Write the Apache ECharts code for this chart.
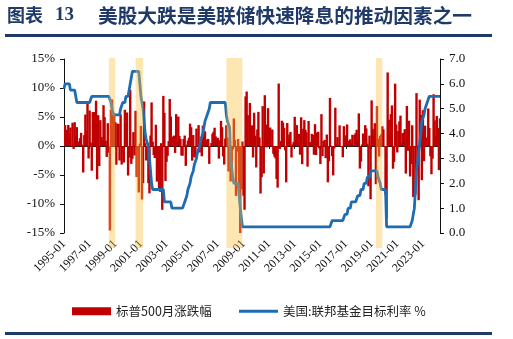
<!DOCTYPE html>
<html>
<head>
<meta charset="utf-8">
<script src="https://cdn.jsdelivr.net/npm/echarts@6/dist/echarts.min.js"></script>
<style>
  html, body { margin: 0; padding: 0; background: #fff; }
  #chart { width: 513px; height: 339px; }
</style>
</head>
<body>
<div id="chart"></div>
<script>
// Monthly series, 1995-01 .. 2024-05
const startYear = 1995;
const monthCount = 353;

// S&P 500 monthly change, %
const spxReturns = [
  2.43, 3.61, 2.73, 2.80, 3.63, 2.13, 3.18, -0.03, 4.01, -0.50, 4.10, 1.74,
  3.26, 0.69, 0.79, 1.34, 2.28, 0.23, -4.57, 1.88, 5.42, 2.61, 7.34, -2.15,
  6.13, 0.59, -4.26, 5.84, 5.86, 4.35, 7.81, -5.75, 5.32, -3.45, 4.46, 1.57,
  1.01, 7.04, 4.99, 0.91, -1.88, 3.94, -1.16, -14.58, 6.24, 8.03, 5.91, 5.64,
  4.10, -3.23, 3.88, 3.79, -2.50, 5.44, -3.20, -0.63, -2.86, 6.25, 1.91, 5.78,
  -5.09, -2.01, 9.67, -3.08, -2.19, 2.39, -1.63, 6.07, -5.35, -0.49, -8.01, 0.41,
  3.46, -9.23, -6.42, 7.68, 0.51, -2.50, -1.07, -6.41, -8.17, 1.81, 7.52, 0.76,
  -1.56, -2.08, 3.67, -6.14, -0.91, -7.25, -7.90, 0.49, -11.00, 8.64, 5.71, -6.03,
  -2.74, -1.70, 0.84, 8.10, 5.09, 1.13, 1.62, 1.79, -1.19, 5.50, 0.71, 5.08,
  1.73, 1.22, -1.64, -1.68, 1.21, 1.80, -3.43, 0.23, 0.94, 1.40, 3.86, 3.25,
  -2.53, 1.89, -1.91, -2.01, 3.00, -0.01, 3.60, -1.12, 0.69, -1.77, 3.52, -0.10,
  2.55, 0.05, 1.11, 1.22, -3.09, 0.01, 0.51, 2.13, 2.46, 3.15, 1.65, 1.26,
  1.41, -2.18, 1.00, 4.33, 3.25, -1.78, -3.20, 1.29, 3.58, 1.48, -4.40, -0.86,
  -6.12, -3.48, -0.60, 4.75, 1.07, -8.60, -0.99, 1.22, -9.08, -16.94, -7.48, 0.78,
  -8.57, -10.99, 8.54, 9.39, 5.31, 0.02, 7.41, 3.36, 3.57, -1.98, 5.74, 1.78,
  -3.70, 2.85, 5.88, 1.48, -8.20, -5.39, 6.88, -4.74, 8.76, 3.69, -0.23, 6.53,
  2.26, 3.20, -0.10, 2.85, -1.35, -1.83, -2.15, -5.68, -7.18, 10.77, -0.51, 0.85,
  4.36, 4.06, 3.13, -0.75, -6.27, 3.96, 1.26, 1.98, 2.42, -1.98, 0.28, 0.71,
  5.04, 1.11, 3.60, 1.81, 2.08, -1.50, 4.95, -3.13, 2.97, 4.46, 2.80, 2.36,
  -3.56, 4.31, 0.69, 0.62, 2.10, 1.91, -1.51, 3.77, -1.55, 2.32, 2.45, -0.42,
  -3.10, 5.49, -1.74, 0.85, 1.05, -2.10, 1.97, -6.26, -2.64, 8.30, 0.05, -1.75,
  -5.07, -0.41, 6.60, 0.27, 1.53, 0.09, 3.56, -0.12, -0.12, -1.94, 3.42, 1.82,
  1.79, 3.72, -0.04, 0.91, 1.16, 0.48, 1.93, 0.05, 1.93, 2.22, 2.81, 0.98,
  5.62, -3.89, -2.69, 0.27, 2.16, 0.48, 3.60, 3.03, 0.43, -6.94, 1.79, -9.18,
  7.87, 2.97, 1.79, 3.93, -6.58, 6.89, 1.31, -1.81, 1.72, 2.04, 3.40, 2.86,
  -0.16, -8.41, -12.51, 12.68, 4.53, 1.84, 5.51, 7.01, -3.92, -2.77, 10.75, 3.71,
  -1.11, 2.61, 4.24, 5.24, 0.55, 2.22, 2.27, 2.90, -4.76, 6.91, -0.83, 4.36,
  -5.26, -3.14, 3.58, -8.80, 0.01, -8.39, 9.11, -4.24, -9.34, 7.99, 5.38, -5.90,
  6.18, -2.61, 3.51, 1.46, 0.25, 6.47, 3.11, -1.77, -4.87, -2.20, 8.92, 4.42,
  1.59, 5.17, 3.10, -4.16, 4.80
];

// US federal funds target rate (upper bound), %
const fedTarget = [
  5.8, 6, 6, 6, 6, 6, 5.75, 5.75, 5.75, 5.75, 5.75, 5.5,
  5.25, 5.25, 5.25, 5.25, 5.25, 5.25, 5.25, 5.25, 5.25, 5.25, 5.25, 5.25,
  5.25, 5.25, 5.5, 5.5, 5.5, 5.5, 5.5, 5.5, 5.5, 5.5, 5.5, 5.5,
  5.5, 5.5, 5.5, 5.5, 5.5, 5.5, 5.5, 5.5, 5.25, 5, 4.75, 4.75,
  4.75, 4.75, 4.75, 4.75, 4.75, 5, 5, 5.25, 5.25, 5.25, 5.5, 5.5,
  5.5, 5.75, 6, 6, 6.5, 6.5, 6.5, 6.5, 6.5, 6.5, 6.5, 6.5,
  5.5, 5.5, 5, 4.5, 4, 3.75, 3.75, 3.5, 3, 2.5, 2, 1.75,
  1.75, 1.75, 1.75, 1.75, 1.75, 1.75, 1.75, 1.75, 1.75, 1.75, 1.25, 1.25,
  1.25, 1.25, 1.25, 1.25, 1.25, 1, 1, 1, 1, 1, 1, 1,
  1, 1, 1, 1, 1, 1.25, 1.25, 1.5, 1.75, 1.75, 2, 2.25,
  2.25, 2.5, 2.75, 2.75, 3, 3.25, 3.25, 3.5, 3.75, 3.75, 4, 4.25,
  4.5, 4.5, 4.75, 4.75, 5, 5.25, 5.25, 5.25, 5.25, 5.25, 5.25, 5.25,
  5.25, 5.25, 5.25, 5.25, 5.25, 5.25, 5.25, 5.25, 4.75, 4.5, 4.5, 4.25,
  3, 3, 2.25, 2, 2, 2, 2, 2, 2, 1, 1, 0.25,
  0.25, 0.25, 0.25, 0.25, 0.25, 0.25, 0.25, 0.25, 0.25, 0.25, 0.25, 0.25,
  0.25, 0.25, 0.25, 0.25, 0.25, 0.25, 0.25, 0.25, 0.25, 0.25, 0.25, 0.25,
  0.25, 0.25, 0.25, 0.25, 0.25, 0.25, 0.25, 0.25, 0.25, 0.25, 0.25, 0.25,
  0.25, 0.25, 0.25, 0.25, 0.25, 0.25, 0.25, 0.25, 0.25, 0.25, 0.25, 0.25,
  0.25, 0.25, 0.25, 0.25, 0.25, 0.25, 0.25, 0.25, 0.25, 0.25, 0.25, 0.25,
  0.25, 0.25, 0.25, 0.25, 0.25, 0.25, 0.25, 0.25, 0.25, 0.25, 0.25, 0.25,
  0.25, 0.25, 0.25, 0.25, 0.25, 0.25, 0.25, 0.25, 0.25, 0.25, 0.25, 0.5,
  0.5, 0.5, 0.5, 0.5, 0.5, 0.5, 0.5, 0.5, 0.5, 0.5, 0.5, 0.75,
  0.75, 0.75, 1, 1, 1, 1.25, 1.25, 1.25, 1.25, 1.25, 1.25, 1.5,
  1.5, 1.5, 1.75, 1.75, 1.75, 2, 2, 2, 2.25, 2.25, 2.25, 2.5,
  2.5, 2.5, 2.5, 2.5, 2.5, 2.5, 2.25, 2.25, 2, 1.75, 1.75, 1.75,
  1.75, 1.75, 0.25, 0.25, 0.25, 0.25, 0.25, 0.25, 0.25, 0.25, 0.25, 0.25,
  0.25, 0.25, 0.25, 0.25, 0.25, 0.25, 0.25, 0.25, 0.25, 0.25, 0.25, 0.25,
  0.25, 0.25, 0.5, 0.5, 1, 1.75, 2.5, 2.5, 3.25, 3.25, 4, 4.5,
  4.5, 4.75, 5, 5, 5.25, 5.25, 5.5, 5.5, 5.5, 5.5, 5.5, 5.5,
  5.5, 5.5, 5.5, 5.5, 5.5
];

// Shaded periods of fast rate cuts after sharp equity drops
const bandStarts = ['1998-07', '2000-08', '2007-09', '2019-05'];
const bandEnds   = ['1999-01', '2001-03', '2008-12', '2019-11'];

const seriesNames = ['标普500月涨跌幅', '美国:联邦基金目标利率 %'];
const titleLabel = '图表';
const titleNumber = '13';
const titleText = '美股大跌是美联储快速降息的推动因素之一';

// Month labels "YYYY-MM"
const months = [];
for (let i = 0; i < monthCount; i++) {
  const y = startYear + Math.floor(i / 12);
  const m = (i % 12) + 1;
  months.push(y + '-' + (m < 10 ? '0' + m : m));
}

const navy = '#1f3a68';
const barRed = '#c00000';
const lineBlue = '#1f6cb2';
const serif = '"Liberation Serif", "Times New Roman", serif';
const cjk = '"Noto Sans CJK SC", sans-serif';
const columnPx = 2.4;   // monthly columns are drawn wider than the 1px month slot

const bandData = bandStarts.map((s, i) => [months.indexOf(s), months.indexOf(bandEnds[i])]);
const spxData = spxReturns.map((v, i) => [i, v]);

const chart = echarts.init(document.getElementById('chart'), null, { renderer: 'canvas' });

const legendText = { fontFamily: cjk, fontSize: 12.5, color: '#222' };

chart.setOption({
  animation: false,
  backgroundColor: '#ffffff',
  grid: [
    { left: 64, right: 73, top: 59, bottom: 106 },
    { left: 64, right: 73, top: 58, bottom: 91 }
  ],
  xAxis: [
    {
      type: 'category', gridIndex: 0, data: months, boundaryGap: false,
      position: 'bottom',
      axisLine: { show: false, onZero: false },
      axisTick: { show: false },
      axisLabel: {
        interval: 23, rotate: 45, margin: 9,
        fontFamily: serif, fontSize: 12, color: '#111'
      },
      splitLine: { show: false }
    },
    {
      type: 'category', gridIndex: 0, data: months, boundaryGap: false,
      position: 'bottom',
      axisLine: { show: true, onZero: true, onZeroAxisIndex: 0, lineStyle: { color: '#222', width: 1 } },
      axisTick: { show: true, interval: 23, length: 3, lineStyle: { color: '#222' } },
      axisLabel: { show: false },
      splitLine: { show: false }
    },
    { type: 'category', gridIndex: 1, data: months, boundaryGap: false, show: false }
  ],
  yAxis: [
    {
      type: 'value', gridIndex: 0, min: -15, max: 15, interval: 5, position: 'left',
      axisLine: { show: true, onZero: false, lineStyle: { color: '#111', width: 1 } },
      axisTick: { show: true, length: 4, lineStyle: { color: '#111' } },
      axisLabel: { formatter: '{value}%', fontFamily: serif, fontSize: 13, color: '#111', margin: 9 },
      splitLine: { show: false }
    },
    {
      type: 'value', gridIndex: 0, min: 0, max: 7, interval: 1, position: 'right',
      axisLine: { show: true, onZero: false, lineStyle: { color: '#111', width: 1 } },
      axisTick: { show: true, length: 4, lineStyle: { color: '#111' } },
      axisLabel: { formatter: v => v.toFixed(1), fontFamily: serif, fontSize: 13, color: '#111', margin: 9 },
      splitLine: { show: false }
    },
    { type: 'value', gridIndex: 1, min: 0, max: 1, show: false }
  ],
  legend: [
    {
      left: 67, top: 300, itemWidth: 39, itemHeight: 8,
      textStyle: legendText,
      data: [{ name: seriesNames[0], icon: 'rect', itemStyle: { color: barRed } }]
    },
    {
      left: 234, top: 300, itemWidth: 39, itemHeight: 3,
      textStyle: legendText,
      data: [{ name: seriesNames[1], icon: 'rect', itemStyle: { color: lineBlue } }]
    }
  ],
  series: [
    {
      name: seriesNames[0], type: 'custom', xAxisIndex: 0, yAxisIndex: 0,
      data: spxData, encode: { x: 0, y: 1 }, clip: true, z: 2,
      itemStyle: { color: barRed },
      renderItem: function (params, api) {
        const top = api.coord([api.value(0), api.value(1)]);
        const base = api.coord([api.value(0), 0]);
        return {
          type: 'rect',
          shape: {
            x: top[0] - columnPx / 2,
            y: Math.min(top[1], base[1]),
            width: columnPx,
            height: Math.abs(base[1] - top[1])
          },
          style: { fill: barRed }
        };
      }
    },
    {
      name: seriesNames[1], type: 'line', xAxisIndex: 0, yAxisIndex: 1,
      data: fedTarget, symbol: 'none', showSymbol: false, z: 3,
      lineStyle: { color: lineBlue, width: 2.8 },
      itemStyle: { color: lineBlue }
    },
    {
      type: 'custom', xAxisIndex: 2, yAxisIndex: 2, z: 10, silent: true,
      data: bandData,
      encode: { x: [0, 1] },
      renderItem: function (params, api) {
        const p0 = api.coord([api.value(0), 1]);
        const p1 = api.coord([api.value(1), 0]);
        return {
          type: 'rect',
          shape: { x: p0[0], y: p0[1], width: p1[0] - p0[0], height: p1[1] - p0[1] },
          style: { fill: 'rgba(252,192,64,0.4)' }
        };
      }
    }
  ],
  graphic: [
    { type: 'text', left: 7, top: 6, style: { text: titleLabel, font: 'bold 18px ' + cjk, fill: navy } },
    { type: 'text', left: 55, top: 6, style: { text: titleNumber, font: 'bold 19px ' + serif, fill: navy } },
    { type: 'text', left: 98, top: 6, style: { text: titleText, font: 'bold 19.7px ' + cjk, fill: navy } },
    { type: 'rect', shape: { x: 5, y: 34, width: 487, height: 3 }, style: { fill: navy } },
    { type: 'rect', shape: { x: 5, y: 332, width: 487, height: 3 }, style: { fill: navy } }
  ]
});
</script>
</body>
</html>
